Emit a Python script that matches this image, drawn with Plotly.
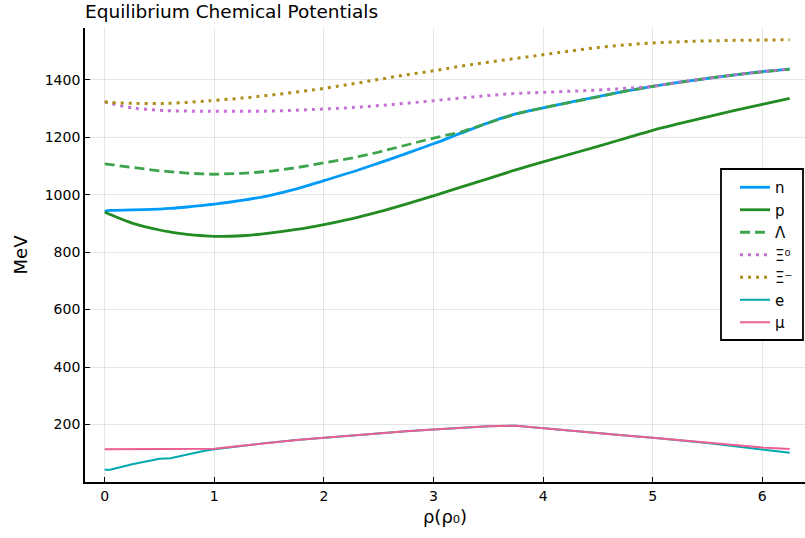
import plotly.graph_objects as go

rho = [0, 0.05, 0.25, 0.5, 0.6, 0.75, 0.9, 1.0, 1.25, 1.5, 1.75, 2.0, 2.25, 2.5, 2.75,
       3.0, 3.25, 3.5, 3.75, 4.0, 4.25, 4.5, 4.75, 5.0, 5.25, 5.5, 5.75, 6.0, 6.25]

mu_n = [942, 945, 947, 950, 952, 957, 963, 967, 980, 997, 1020, 1049, 1078, 1110, 1143,
        1177, 1214, 1250, 1281, 1302, 1322, 1341, 1360, 1377, 1392, 1405, 1417, 1428, 1437]
mu_p = [940, 931, 901, 877, 870, 862, 857, 855, 857, 866, 879, 896, 916, 940, 967,
        996, 1026, 1056, 1086, 1114, 1141, 1168, 1196, 1224, 1248, 1271, 1293, 1314, 1335]
mu_L = [1107, 1105, 1095, 1083, 1079, 1075, 1072, 1071, 1074, 1081, 1094, 1110, 1127, 1148, 1172,
        1197, 1218, 1250, 1281, 1302, 1322, 1341, 1360, 1377, 1392, 1405, 1417, 1428, 1437]
mu_X0 = [1323, 1318, 1302, 1294, 1292, 1291, 1290, 1290, 1290, 1291, 1294, 1298, 1303, 1310, 1318,
         1327, 1336, 1345, 1352, 1356, 1360, 1364, 1370, 1377, 1392, 1405, 1417, 1428, 1437]
mu_Xm = [1323, 1321, 1318, 1317, 1318, 1321, 1325, 1328, 1336, 1346, 1357, 1370, 1385, 1401, 1417,
         1431, 1447, 1461, 1474, 1487, 1500, 1512, 1521, 1528, 1532, 1535, 1537, 1538, 1539]
mu_e = [43, 43, 62, 81, 83, 96, 108, 114, 126, 137, 146, 154, 162, 170, 177,
        183, 189, 194, 196, 187, 179, 170, 162, 154, 145, 136, 124, 112, 102]
mu_mu = [114, 114, 114, 114, 114, 114, 114, 116, 126, 137, 146, 154, 162, 170, 177,
         183, 189, 194, 196, 187, 179, 170, 162, 154, 145, 136, 127, 120, 115]

names = ["n", "p", "Λ", "Ξ⁰", "Ξ⁻", "e", "μ"]
series = [mu_n, mu_p, mu_L, mu_X0, mu_Xm, mu_e, mu_mu]
colors = ["#009af9", "#228b22", "#3da44d", "#c271d2", "#ac8e18", "#00a9ad", "#ed5e93"]
dashes = ["solid", "solid", "10px,5px", "3px,5px", "3px,5px", "solid", "solid"]
widths = [2.8, 2.8, 2.8, 3, 3, 2, 2]
shapes = ["spline", "spline", "linear", "spline", "spline", "linear", "linear"]

fig = go.Figure()
for nm, ys, c, d, w, s in zip(names, series, colors, dashes, widths, shapes):
    fig.add_trace(go.Scatter(x=rho, y=ys, mode="lines", name=nm,
                             line=dict(color=c, dash=d, width=w, shape=s, smoothing=1.0)))

axis_common = dict(showline=True, linecolor="black", linewidth=1.8, mirror=False,
                   showgrid=True, gridcolor="rgba(0,0,0,0.1)", gridwidth=1,
                   ticks="inside", ticklen=5, tickcolor="black", tickwidth=1,
                   zeroline=False, tickfont=dict(size=14, color="black",
                                                 family="DejaVu Sans"))

# legend frame (pixel geometry of the plot area: x 85..805, y 28..482)
fig.add_shape(type="rect", xref="paper", yref="paper",
              x0=(721 - 85) / 720, x1=(803 - 85) / 720,
              y0=(482 - 340) / 454, y1=(482 - 169) / 454,
              line=dict(color="black", width=1.8), fillcolor="white", layer="above")

fig.update_layout(
    width=805, height=538,
    margin=dict(l=85, r=0, t=28, b=56),
    paper_bgcolor="white", plot_bgcolor="white",
    font=dict(family="DejaVu Sans", color="black"),
    title=dict(text="Equilibrium Chemical Potentials", x=85 / 805, xanchor="left",
               xref="container", y=1 - 12 / 538, yanchor="middle", yref="container",
               font=dict(size=18.5, color="black")),
    xaxis=dict(range=[-0.18, 6.39], tickvals=[0, 1, 2, 3, 4, 5, 6],
               title=dict(text="ρ(ρ₀)", font=dict(size=18), standoff=8), **axis_common),
    yaxis=dict(range=[0, 1580], tickvals=[200, 400, 600, 800, 1000, 1200, 1400],
               title=dict(text="MeV", font=dict(size=18), standoff=12), **axis_common),
    legend=dict(x=(735 - 85) / 720, xanchor="left", y=(482 - 171) / 454, yanchor="top",
                borderwidth=0, bgcolor="rgba(0,0,0,0)",
                font=dict(size=15), itemwidth=30),
    showlegend=True,
)

fig.write_html("out.html")
